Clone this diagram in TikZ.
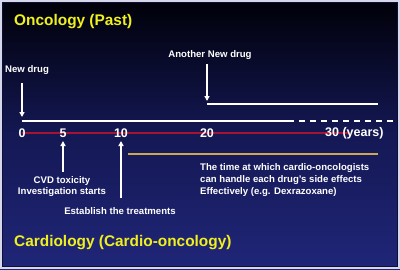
\documentclass[tikz,border=0pt]{standalone}
\usepackage{fontspec}
\setmainfont{Liberation Sans}
\usetikzlibrary{arrows.meta}
\definecolor{bgtop}{RGB}{0,0,8}
\definecolor{bgmid}{RGB}{20,24,84}
\definecolor{bgbot}{RGB}{32,38,120}
\definecolor{ttl}{RGB}{240,240,30}
\definecolor{redline}{RGB}{165,20,50}
\definecolor{goldline}{RGB}{205,165,85}
\definecolor{frame}{RGB}{215,215,235}
\begin{document}
\begin{tikzpicture}[x=1pt,y=-1pt,
  title/.style={font=\bfseries\fontsize{15.4}{17}\selectfont, text=ttl, anchor=west, inner sep=0pt},
  lbl/.style={font=\bfseries\fontsize{9.6}{12}\selectfont, text=white, inner sep=0pt},
  num/.style={font=\bfseries\fontsize{12.5}{13}\selectfont, text=white, inner sep=0pt},
  wline/.style={draw=white, line width=1.8pt},
  warrow/.style={draw=white, line width=1.6pt, -{Triangle[length=5pt,width=5pt]}}]
\useasboundingbox (0,0) rectangle (400,269);
\shade[top color=bgtop, bottom color=bgbot, middle color=bgmid] (0,0) rectangle (400,269);
\draw[frame, line width=2pt] (1,1) rectangle (399,268);
\draw[bgtop!60!bgbot, line width=0.6pt] (2.5,2.5) rectangle (397.5,266.5);
% titles
\node[title] (onc) at (14,22) {Oncology (Past)};
\node[title] (card) at (14,243) {Cardiology (Cardio-oncology)};
% lines
\coordinate (w0) at (22,121);
\coordinate (w20) at (288,121);
\coordinate (wend) at (396,121);
\draw[wline] (w0) -- (w20);
\draw[wline, dash pattern=on 6pt off 5pt] (w20) -- (wend);
\coordinate (u0) at (207,104);
\coordinate (u1) at (378,104);
\draw[wline] (u0) -- (u1);
\coordinate (r0) at (22,133);
\coordinate (r1) at (350,133);
\draw[redline, line width=1.8pt] (r0) -- (r1);
\coordinate (g0) at (128,154);
\coordinate (g1) at (378,154);
\draw[goldline, line width=1.8pt] (g0) -- (g1);
% numbers
\node[num] (n0) at (22,133) {0};
\node[num] (n5) at (63,133) {5};
\node[num] (n10) at (121,133) {10};
\node[num] (n20) at (207,133) {20};
\node[num, anchor=west] (n30) at (325,133) {30 (years)};
% labels
\node[lbl, anchor=west] (nd) at (5,70) {New drug};
\node[lbl] (and) at (210,55) {Another New drug};
\node[lbl] (cvd1) at (62,181) {CVD toxicity};
\node[lbl] (cvd2) at (62,192) {Investigation starts};
\node[lbl] (est) at (120,211) {Establish the treatments};
\node[lbl, anchor=west, align=left] (time) at (200,180) {The time at which cardio-oncologists\\can handle each drug's side effects\\Effectively (e.g. Dexrazoxane)};
% arrows
\coordinate (a1s) at (22,83);  \coordinate (a1e) at (22,117);
\coordinate (a2s) at (207,64); \coordinate (a2e) at (207,101);
\coordinate (a3s) at (63,172); \coordinate (a3e) at (63,141);
\coordinate (a4s) at (121,198); \coordinate (a4e) at (121,141);
\draw[warrow] (a1s) -- (a1e);
\draw[warrow] (a2s) -- (a2e);
\draw[warrow] (a3s) -- (a3e);
\draw[warrow] (a4s) -- (a4e);
\end{tikzpicture}
\end{document}
